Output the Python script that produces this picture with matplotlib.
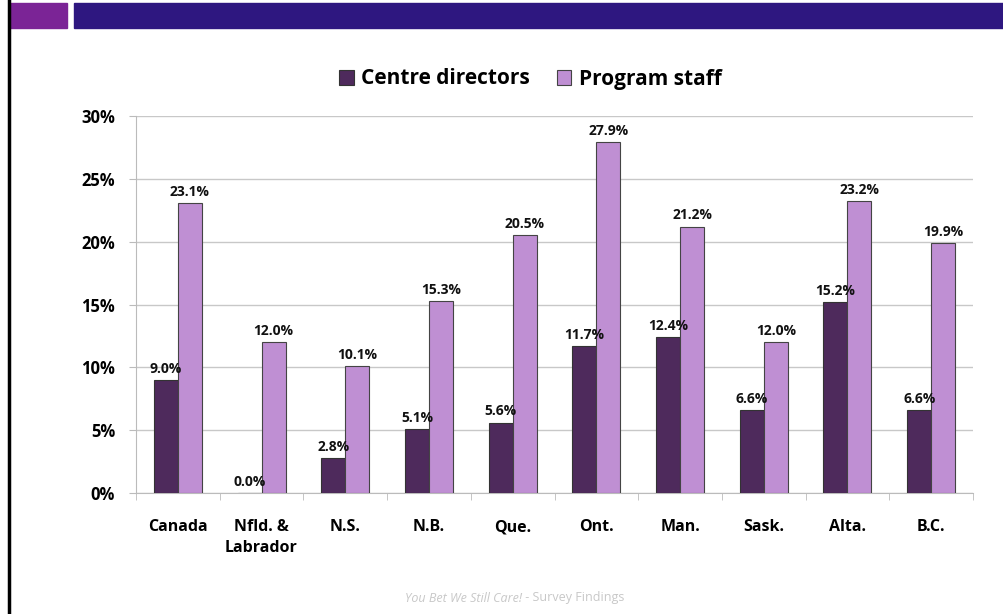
#!/usr/bin/env python3

import numpy as np
import matplotlib
matplotlib.use('Agg')
import matplotlib.pyplot as plt
import matplotlib.ticker as mtick
from matplotlib.patches import Rectangle
from matplotlib.lines import Line2D

provinces = ['Canada', 'Nfld. &\nLabrador', 'N.S.', 'N.B.', 'Que.', 'Ont.',
             'Man.', 'Sask.', 'Alta.', 'B.C.']
directors = [9.0, 0.0, 2.8, 5.1, 5.6, 11.7, 12.4, 6.6, 15.2, 6.6]
staff = [23.1, 12.0, 10.1, 15.3, 20.5, 27.9, 21.2, 12.0, 23.2, 19.9]
series_names = ['Centre directors', 'Program staff']
y_ticks = [0, 5, 10, 15, 20, 25, 30]

dir_color = '#4E2A5C'
staff_color = '#BF8FD3'

plt.rcParams['font.family'] = ['Open Sans', 'DejaVu Sans']

fig = plt.figure(figsize=(10.04, 6.14), dpi=100)

# slide decoration: header bars, left rule, footer
fig.patches.append(Rectangle((10/1004, 1-28/614), 57/1004, 25/614,
                             transform=fig.transFigure, color='#7B2496', zorder=0))
fig.patches.append(Rectangle((74/1004, 1-28/614), 930/1004, 25/614,
                             transform=fig.transFigure, color='#2E1780', zorder=0))
fig.lines.append(Line2D([9/1004, 9/1004], [0, 1], transform=fig.transFigure,
                        color='black', linewidth=2.5))
fig.text(0.5204, 1-598/614, 'You Bet We Still Care!', style='italic', color='#C8C8C8',
         fontsize=9, ha='right', va='center')
fig.text(0.5204, 1-598/614, ' - Survey Findings', color='#C8C8C8',
         fontsize=9, ha='left', va='center')

ax = fig.add_axes([136/1004, 1-493/614, 837/1004, 377/614])

x = np.arange(len(provinces))
w = 0.287
b1 = ax.bar(x - w/2, directors, w, color=dir_color, edgecolor='#333333',
            linewidth=0.8, label=series_names[0], zorder=3)
b2 = ax.bar(x + w/2, staff, w, color=staff_color, edgecolor='#444444',
            linewidth=0.8, label=series_names[1], zorder=3)

for bars, vals in ((b1, directors), (b2, staff)):
    for rect, v in zip(bars, vals):
        ax.annotate('{:.1f}%'.format(v), (rect.get_x() + rect.get_width()/2, v),
                    xytext=(0, 3), textcoords='offset points', ha='center', va='bottom',
                    fontsize=10, fontweight='bold', color='#111111', zorder=4)

ax.set_xlim(-0.5, len(provinces) - 0.5)
ax.set_ylim(0, 30)
ax.set_yticks(y_ticks)
ax.yaxis.set_major_formatter(mtick.PercentFormatter(decimals=0))
ax.set_xticks(x)
ax.set_xticklabels(provinces, fontsize=11.5, fontweight='bold', linespacing=1.4)
ax.set_xticks(np.arange(-0.5, len(provinces)), minor=True)
ax.tick_params(axis='x', which='major', length=0, pad=19)
ax.tick_params(axis='x', which='minor', length=5, color='#BBBBBB', direction='out')
ax.tick_params(axis='y', length=5, color='#BBBBBB', labelsize=12, pad=10)
for lbl in ax.get_yticklabels():
    lbl.set_fontweight('bold')

ax.grid(axis='y', color='#C8C8C8', linewidth=1, zorder=0)
ax.set_axisbelow(True)
for s in ('top', 'right'):
    ax.spines[s].set_visible(False)
ax.spines['left'].set_color('#BBBBBB')
ax.spines['bottom'].set_color('#BBBBBB')

fig.legend(handles=[b1, b2], loc='center', bbox_to_anchor=(0.528, 1-79/614),
           ncol=2, frameon=False, prop={'weight': 'bold', 'size': 15},
           handlelength=0.7, handleheight=0.7, handletextpad=0.35, columnspacing=1.3)

fig.savefig('out.png', dpi=100)
